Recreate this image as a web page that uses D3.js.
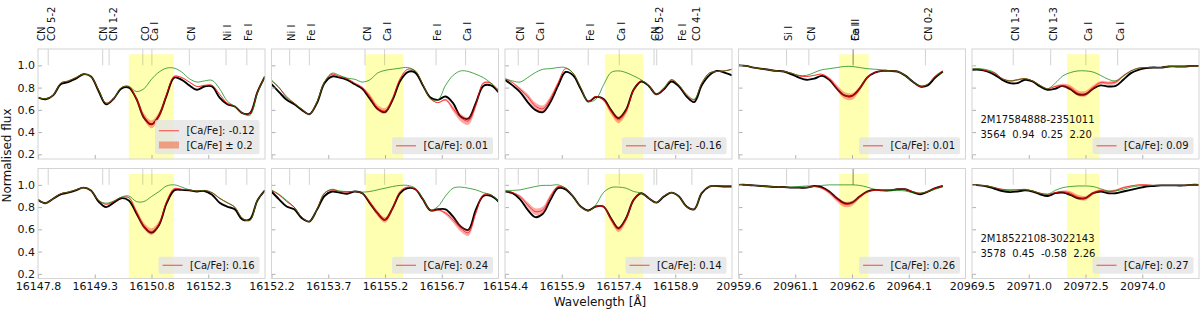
<!DOCTYPE html>
<html>
<head>
<meta charset="utf-8">
<script src="https://cdn.jsdelivr.net/npm/d3@7"></script>
<style>
  body { margin: 0; background: #fff; }
  svg { display: block; font-family: "DejaVu Sans", sans-serif; }
</style>
</head>
<body>
<svg id="chart" width="1200" height="311"></svg>
<script>
// wavelength grid: each panel starts at xStarts[c], samples every 0.2 A
var xStarts = [16147.8, 16152.2, 16154.4, 20959.6, 20969.5];
var step = 0.2;
var tickLabels = [
  ['16147.8', '16149.3', '16150.8', '16152.3'],
  ['16152.2', '16153.7', '16155.2', '16156.7'],
  ['16154.4', '16155.9', '16157.4', '16158.9'],
  ['20959.6', '20961.1', '20962.6', '20964.1'],
  ['20969.5', '20971.0', '20972.5', '20974.0']
];
var yTicks = [0.2, 0.4, 0.6, 0.8, 1.0];

// Ca line windows (yellow)
var caWindows = [[16150.20, 16151.39], [16154.68, 16155.68], [16157.04, 16158.05], [20962.26, 20963.04], [20972.01, 20972.87]];

// line markers and their labels
var lines1 = [16148.07, 16149.51, 16149.68, 16150.57, 16150.81, 16151.80, 16152.77, 16153.32];
var labels1 = [[16147.90, 'CN'], [16148.16, 'CO 5-2'], [16149.53, 'CN'], [16149.79, 'CN 1-2'], [16150.63, 'CO'], [16150.87, 'Ca I'], [16151.86, 'CN'], [16152.81, 'Ni I'], [16153.36, 'Fe I']];
var lines2 = [16152.68, 16153.20, 16154.67, 16155.19, 16156.55, 16157.33];
var labels2 = [[16152.74, 'Ni I'], [16153.27, 'Fe I'], [16154.73, 'CN'], [16155.26, 'Ca I'], [16156.60, 'Fe I'], [16157.39, 'Ca I']];
var lines3 = [16154.75, 16155.28, 16156.60, 16157.42, 16158.34, 16158.41, 16159.34];
var labels3 = [[16154.81, 'CN'], [16155.34, 'Ca I'], [16156.67, 'Fe I'], [16157.48, 'Ca I'], [16158.37, 'CN'], [16158.48, 'CO 5-2'], [16159.10, 'Fe I'], [16159.47, 'CO 4-1']];
var lines4 = [20960.87, 20961.46, 20962.63, 20962.63, 20962.63, 20964.54];
var labels4 = [[20960.93, 'Si I'], [20961.53, 'CN'], [20962.69, 'Ca II'], [20962.69, 'Fe I'], [20964.61, 'CN 0-2']];
var lines5 = [20970.59, 20971.58, 20972.51, 20973.35];
var labels5 = [[20970.66, 'CN 1-3'], [20971.65, 'CN 1-3'], [20972.57, 'Ca I'], [20973.43, 'Ca I']];

// star A (top row)
var obsA1 = [0.71,0.695,0.73,0.83,0.85,0.88,0.92,0.90,0.77,0.65,0.70,0.79,0.80,0.70,0.53,0.47,0.55,0.73,0.89,0.87,0.82,0.78,0.81,0.81,0.71,0.65,0.63,0.57,0.57,0.76,0.90];
var fitA1 = [0.71,0.70,0.73,0.84,0.86,0.89,0.92,0.90,0.78,0.66,0.70,0.80,0.81,0.70,0.54,0.47,0.55,0.74,0.90,0.89,0.85,0.81,0.82,0.82,0.74,0.66,0.63,0.57,0.57,0.76,0.90];
var noCaA1 = [0.71,0.70,0.73,0.84,0.86,0.89,0.92,0.90,0.78,0.66,0.70,0.80,0.81,0.765,0.79,0.875,0.94,0.975,0.975,0.94,0.88,0.85,0.86,0.865,0.79,0.68,0.63,0.57,0.55,0.75,0.90];
var bandA1 = [0.004,0.004,0.004,0.004,0.004,0.004,0.004,0.004,0.006,0.008,0.006,0.004,0.006,0.02,0.03,0.035,0.03,0.015,0.008,0.005,0.005,0.005,0.005,0.005,0.005,0.005,0.004,0.004,0.004,0.004,0.004];

var obsA2 = [0.83,0.76,0.69,0.65,0.60,0.56,0.66,0.84,0.90,0.89,0.87,0.83,0.79,0.70,0.61,0.58,0.69,0.86,0.94,0.935,0.82,0.71,0.69,0.72,0.66,0.54,0.52,0.66,0.815,0.82,0.76];
var fitA2 = [0.86,0.80,0.71,0.66,0.605,0.56,0.67,0.85,0.92,0.90,0.88,0.84,0.80,0.72,0.62,0.59,0.70,0.88,0.965,0.95,0.83,0.70,0.665,0.69,0.61,0.53,0.50,0.64,0.84,0.84,0.76];
var noCaA2 = [0.87,0.80,0.72,0.66,0.605,0.56,0.67,0.85,0.93,0.91,0.885,0.875,0.85,0.87,0.93,0.955,0.965,0.975,0.98,0.95,0.83,0.70,0.69,0.82,0.91,0.95,0.945,0.92,0.89,0.84,0.78];
var bandA2 = [0.004,0.004,0.004,0.004,0.004,0.004,0.004,0.004,0.004,0.004,0.004,0.004,0.01,0.02,0.025,0.025,0.02,0.01,0.004,0.004,0.004,0.004,0.004,0.01,0.025,0.035,0.035,0.025,0.01,0.004,0.004];

var obsA3 = [0.87,0.82,0.76,0.67,0.60,0.58,0.67,0.815,0.94,0.91,0.79,0.675,0.715,0.70,0.60,0.525,0.60,0.78,0.855,0.815,0.74,0.785,0.855,0.81,0.72,0.67,0.82,0.91,0.95,0.935,0.91];
var fitA3 = [0.88,0.845,0.785,0.72,0.635,0.61,0.70,0.84,0.97,0.93,0.80,0.675,0.72,0.69,0.585,0.51,0.585,0.78,0.86,0.82,0.74,0.79,0.87,0.82,0.73,0.69,0.84,0.93,0.945,0.95,0.965];
var noCaA3 = [0.88,0.86,0.85,0.89,0.935,0.965,0.97,0.98,0.98,0.93,0.80,0.675,0.695,0.82,0.935,0.95,0.935,0.905,0.87,0.815,0.74,0.80,0.87,0.82,0.74,0.695,0.84,0.93,0.945,0.95,0.965];
var bandA3 = [0.004,0.004,0.015,0.025,0.03,0.03,0.025,0.012,0.004,0.004,0.004,0.004,0.004,0.012,0.025,0.03,0.025,0.012,0.004,0.004,0.004,0.004,0.004,0.004,0.004,0.004,0.004,0.004,0.004,0.004,0.004];

var obsA4 = [1.0,0.995,0.98,0.97,0.96,0.95,0.945,0.92,0.89,0.87,0.88,0.905,0.87,0.79,0.73,0.725,0.79,0.89,0.935,0.95,0.95,0.945,0.91,0.855,0.81,0.82,0.89,0.945];
var fitA4 = [1.0,0.995,0.98,0.97,0.96,0.95,0.945,0.93,0.905,0.90,0.91,0.92,0.88,0.80,0.73,0.72,0.79,0.89,0.935,0.95,0.95,0.945,0.91,0.855,0.81,0.83,0.905,0.95];
var noCaA4 = [1.0,0.995,0.98,0.97,0.96,0.95,0.945,0.93,0.91,0.91,0.935,0.96,0.97,0.98,0.99,0.99,0.98,0.97,0.965,0.96,0.95,0.945,0.91,0.855,0.815,0.83,0.90,0.935];
var bandA4 = [0.004,0.004,0.004,0.004,0.004,0.004,0.004,0.004,0.004,0.004,0.004,0.004,0.012,0.025,0.03,0.03,0.02,0.01,0.004,0.004,0.004,0.004,0.004,0.004,0.004,0.004,0.004,0.004];

var obsA5 = [0.96,0.96,0.945,0.915,0.87,0.84,0.84,0.87,0.855,0.81,0.78,0.79,0.815,0.785,0.74,0.74,0.79,0.82,0.81,0.815,0.87,0.93,0.96,0.975,0.98,0.98,0.99,0.99,0.99,0.995,0.995];
var fitA5 = [0.965,0.965,0.95,0.93,0.88,0.86,0.87,0.88,0.86,0.82,0.79,0.81,0.82,0.80,0.75,0.745,0.80,0.845,0.84,0.85,0.905,0.95,0.975,0.98,0.98,0.98,0.99,0.99,0.99,0.995,0.995];
var noCaA5 = [0.97,0.97,0.96,0.935,0.88,0.86,0.87,0.88,0.86,0.82,0.79,0.84,0.905,0.935,0.95,0.95,0.94,0.91,0.875,0.86,0.905,0.95,0.975,0.98,0.98,0.98,0.99,0.99,0.99,0.995,0.995];
var bandA5 = [0.004,0.004,0.004,0.004,0.006,0.008,0.008,0.006,0.004,0.004,0.004,0.008,0.015,0.022,0.025,0.025,0.02,0.015,0.015,0.015,0.01,0.004,0.004,0.004,0.004,0.004,0.004,0.004,0.004,0.004,0.004];

// star B (bottom row)
var obsB1 = [0.865,0.835,0.875,0.915,0.93,0.95,0.975,0.95,0.85,0.80,0.84,0.88,0.86,0.745,0.625,0.57,0.64,0.835,0.95,0.955,0.95,0.94,0.945,0.91,0.84,0.805,0.78,0.69,0.69,0.86,0.95];
var fitB1 = [0.865,0.835,0.875,0.92,0.935,0.955,0.975,0.95,0.86,0.825,0.85,0.885,0.885,0.76,0.63,0.58,0.65,0.85,0.965,0.96,0.955,0.945,0.95,0.93,0.88,0.84,0.80,0.70,0.68,0.86,0.95];
var noCaB1 = [0.865,0.835,0.875,0.92,0.935,0.955,0.975,0.95,0.86,0.835,0.855,0.89,0.90,0.85,0.85,0.895,0.94,0.99,1.0,0.98,0.955,0.945,0.95,0.93,0.88,0.84,0.80,0.70,0.68,0.86,0.95];
var bandB1 = [0.004,0.004,0.004,0.004,0.004,0.004,0.004,0.004,0.004,0.004,0.004,0.004,0.006,0.02,0.03,0.03,0.025,0.012,0.006,0.004,0.004,0.004,0.004,0.004,0.004,0.004,0.004,0.004,0.004,0.004,0.004];

var obsB2 = [0.94,0.87,0.805,0.78,0.70,0.67,0.775,0.90,0.94,0.93,0.92,0.94,0.925,0.835,0.745,0.685,0.79,0.925,0.97,0.96,0.87,0.77,0.78,0.78,0.715,0.625,0.595,0.775,0.90,0.90,0.85];
var fitB2 = [0.95,0.91,0.85,0.80,0.71,0.67,0.78,0.925,0.955,0.94,0.935,0.94,0.925,0.845,0.745,0.685,0.79,0.94,0.98,0.96,0.87,0.77,0.775,0.745,0.685,0.61,0.57,0.745,0.91,0.91,0.85];
var noCaB2 = [0.955,0.915,0.86,0.80,0.71,0.67,0.78,0.925,0.96,0.945,0.94,0.94,0.935,0.94,0.955,0.97,0.985,0.995,0.995,0.97,0.88,0.775,0.805,0.90,0.97,0.98,0.97,0.955,0.93,0.91,0.86];
var bandB2 = [0.004,0.004,0.004,0.004,0.004,0.004,0.004,0.004,0.004,0.004,0.004,0.004,0.004,0.015,0.025,0.025,0.02,0.01,0.004,0.004,0.004,0.004,0.004,0.015,0.025,0.03,0.03,0.02,0.008,0.004,0.004];

var obsB3 = [0.94,0.925,0.87,0.775,0.71,0.74,0.865,0.97,0.96,0.895,0.805,0.77,0.805,0.805,0.70,0.61,0.70,0.865,0.925,0.88,0.84,0.895,0.93,0.895,0.805,0.78,0.925,0.985,0.99,0.985,0.985];
var fitB3 = [0.945,0.93,0.895,0.82,0.76,0.775,0.895,0.985,0.97,0.895,0.805,0.765,0.805,0.805,0.69,0.60,0.69,0.865,0.925,0.88,0.84,0.90,0.93,0.895,0.805,0.78,0.93,0.985,0.99,0.99,0.99];
var noCaB3 = [0.945,0.95,0.955,0.97,0.985,0.995,0.995,1.0,0.97,0.895,0.805,0.765,0.82,0.93,0.975,0.98,0.97,0.94,0.925,0.88,0.84,0.90,0.93,0.895,0.805,0.78,0.93,0.985,0.99,0.99,0.99];
var bandB3 = [0.004,0.004,0.012,0.025,0.03,0.03,0.02,0.008,0.004,0.004,0.004,0.004,0.004,0.012,0.022,0.025,0.022,0.01,0.004,0.004,0.004,0.004,0.004,0.004,0.004,0.004,0.004,0.004,0.004,0.004,0.004];

var obsB4 = [1.0,1.0,0.995,0.99,0.985,0.98,0.98,0.975,0.975,0.975,0.99,0.98,0.94,0.88,0.835,0.84,0.895,0.94,0.955,0.95,0.95,0.96,0.96,0.935,0.915,0.94,0.97,0.99];
var fitB4 = [1.0,1.0,0.995,0.99,0.985,0.98,0.98,0.975,0.975,0.975,0.985,0.97,0.93,0.87,0.825,0.835,0.89,0.935,0.95,0.95,0.955,0.96,0.96,0.94,0.925,0.94,0.97,0.99];
var noCaB4 = [1.0,1.0,0.995,0.99,0.985,0.98,0.98,0.98,0.985,0.99,0.99,0.995,1.0,1.0,1.0,1.0,0.995,0.98,0.96,0.955,0.95,0.95,0.945,0.93,0.925,0.94,0.96,0.985];
var bandB4 = [0.004,0.004,0.004,0.004,0.004,0.004,0.004,0.004,0.004,0.004,0.004,0.008,0.015,0.022,0.025,0.022,0.015,0.008,0.004,0.004,0.004,0.004,0.004,0.004,0.004,0.004,0.004,0.004];

var obsB5 = [1.0,0.995,0.985,0.965,0.945,0.935,0.94,0.95,0.94,0.915,0.90,0.925,0.93,0.91,0.88,0.88,0.925,0.94,0.925,0.925,0.94,0.955,0.97,0.985,0.99,0.995,0.995,0.995,0.995,1.0,1.0];
var fitB5 = [1.0,0.995,0.99,0.975,0.96,0.955,0.955,0.96,0.945,0.925,0.915,0.93,0.94,0.925,0.89,0.88,0.925,0.95,0.94,0.95,0.975,0.99,1.0,1.0,0.995,0.995,0.995,0.995,0.995,1.0,1.0];
var noCaB5 = [1.0,0.995,0.99,0.975,0.955,0.95,0.955,0.955,0.945,0.925,0.915,0.95,0.975,0.985,0.99,0.99,0.985,0.965,0.945,0.945,0.96,0.98,0.99,0.995,0.995,0.995,0.995,0.995,0.995,1.0,1.0];
var bandB5 = [0.004,0.004,0.004,0.004,0.004,0.004,0.004,0.004,0.004,0.004,0.004,0.004,0.01,0.018,0.02,0.02,0.015,0.01,0.01,0.01,0.008,0.004,0.004,0.004,0.004,0.004,0.004,0.004,0.004,0.004,0.004];

var caFeA = ['-0.12', '0.01', '-0.16', '0.01', '0.09'];
var caFeB = ['0.16', '0.24', '0.14', '0.26', '0.27'];
var starA = ['2M17584888-2351011', '3564  0.94  0.25  2.20'];
var starB = ['2M18522108-3022143', '3578  0.45  -0.58  2.26'];

var rows = [
  { obs: [obsA1, obsA2, obsA3, obsA4, obsA5], fit: [fitA1, fitA2, fitA3, fitA4, fitA5],
    noCa: [noCaA1, noCaA2, noCaA3, noCaA4, noCaA5], band: [bandA1, bandA2, bandA3, bandA4, bandA5],
    caFe: caFeA, star: starA },
  { obs: [obsB1, obsB2, obsB3, obsB4, obsB5], fit: [fitB1, fitB2, fitB3, fitB4, fitB5],
    noCa: [noCaB1, noCaB2, noCaB3, noCaB4, noCaB5], band: [bandB1, bandB2, bandB3, bandB4, bandB5],
    caFe: caFeB, star: starB }
];
var allLines = [lines1, lines2, lines3, lines4, lines5];
var allLabels = [labels1, labels2, labels3, labels4, labels5];

// layout
var colLeft = [38, 271.5, 505, 738.5, 972];
var rowTop = [49, 168.5];
var panelW = 227;
var panelH = 110;

var svg = d3.select('#chart');

function toPoints(vals, c) {
  return vals.map(function(v, i) { return { w: xStarts[c] + i * step, v: v }; });
}

function drawPanel(r, c) {
  var row = rows[r];
  var g = svg.append('g')
    .attr('transform', 'translate(' + colLeft[c] + ',' + rowTop[r] + ')');

  var x = d3.scaleLinear().domain([xStarts[c], xStarts[c] + 6]).range([0, panelW]);
  var y = d3.scaleLinear().domain([0.158, 1.147]).range([panelH, 0]);

  var clipId = 'clip' + r + c;
  g.append('clipPath').attr('id', clipId)
    .append('rect').attr('width', panelW).attr('height', panelH);
  var plot = g.append('g').attr('clip-path', 'url(#' + clipId + ')');

  // Ca window
  plot.append('rect')
    .attr('x', x(caWindows[c][0]))
    .attr('width', x(caWindows[c][1]) - x(caWindows[c][0]))
    .attr('y', y(1.1))
    .attr('height', panelH - y(1.1))
    .style('fill', '#ffff00')
    .style('opacity', 0.3);

  // line markers
  plot.selectAll('.mark')
    .data(allLines[c])
    .enter()
    .append('line')
    .attr('x1', function(d) { return x(d); })
    .attr('x2', function(d) { return x(d); })
    .attr('y1', y(1.0))
    .attr('y2', 0)
    .style('stroke', '#000')
    .style('stroke-opacity', 0.18)
    .style('stroke-width', 1);

  var line = d3.line()
    .x(function(d) { return x(d.w); })
    .y(function(d) { return y(d.v); })
    .curve(d3.curveCatmullRom);

  var obs = toPoints(row.obs[c], c);
  var fit = toPoints(row.fit[c], c);
  var band = row.band[c];

  plot.append('path').datum(obs)
    .attr('d', line)
    .style('fill', 'none')
    .style('stroke', '#000')
    .style('stroke-width', 1.9);

  var area = d3.area()
    .x(function(d) { return x(d.w); })
    .y0(function(d, i) { return y(d.v - band[i]); })
    .y1(function(d, i) { return y(d.v + band[i]); })
    .curve(d3.curveCatmullRom);

  plot.append('path').datum(fit)
    .attr('d', area)
    .style('fill', '#ff1a1a')
    .style('opacity', 0.38);

  plot.append('path').datum(fit)
    .attr('d', line)
    .style('fill', 'none')
    .style('stroke', '#ff0000')
    .style('stroke-opacity', 0.7)
    .style('stroke-width', 1);

  plot.append('path').datum(toPoints(row.noCa[c], c))
    .attr('d', line)
    .style('fill', 'none')
    .style('stroke', '#008000')
    .style('stroke-opacity', 0.7)
    .style('stroke-width', 1);

  // axes
  var yAxis = g.append('g')
    .call(d3.axisLeft(y).tickValues(yTicks).tickSize(-4).tickPadding(3)
      .tickFormat(c === 0 ? d3.format('.1f') : function() { return ''; }));
  var xAxis = g.append('g')
    .attr('transform', 'translate(0,' + panelH + ')')
    .call(d3.axisBottom(x).tickValues(tickLabels[c].map(Number)).tickSize(-4).tickPadding(3.5)
      .tickFormat(function(d, i) { return r === 1 ? tickLabels[c][i] : ''; }));
  [yAxis, xAxis].forEach(function(a) {
    a.select('.domain').remove();
    a.selectAll('.tick line').style('stroke', '#b0b0b0');
    a.selectAll('.tick text').style('font-size', '11px').style('fill', '#111')
      .style('font-family', '"DejaVu Sans", sans-serif');
  });

  // frame
  g.append('rect')
    .attr('width', panelW).attr('height', panelH)
    .style('fill', 'none')
    .style('stroke', '#d4d4d4')
    .style('stroke-width', 1);

  // labels above the top row
  if (r === 0) {
    g.selectAll('.lbl')
      .data(allLabels[c])
      .enter()
      .append('text')
      .attr('transform', function(d) { return 'translate(' + x(d[0]) + ',-8) rotate(-90)'; })
      .attr('dy', '0.35em')
      .style('font-size', '10px')
      .style('fill', '#111')
      .text(function(d) { return d[1]; });
  }

  // star info
  if (c === 4) {
    g.selectAll('.star')
      .data(row.star)
      .enter()
      .append('text')
      .attr('x', 8.5)
      .attr('y', function(d, i) { return 73.7 + i * 15; })
      .attr('xml:space', 'preserve')
      .style('white-space', 'pre')
      .style('font-size', '10px')
      .style('fill', '#111')
      .text(function(d) { return d; });
  }

  drawLegend(g, r, c);
}

function drawLegend(g, r, c) {
  var entries = ['[Ca/Fe]: ' + rows[r].caFe[c]];
  if (r === 0 && c === 0) entries.push('[Ca/Fe] \u00b1 0.2');
  var rowH = 14.3;
  var boxH = entries.length === 1 ? 17 : 34.3;
  var leg = g.append('g');
  var bg = leg.append('rect')
    .attr('rx', 2).attr('ry', 2)
    .style('fill', '#e4e4e4')
    .style('opacity', 0.8);
  var texts = leg.selectAll('.lt')
    .data(entries)
    .enter()
    .append('text')
    .attr('x', 31.5)
    .attr('y', function(d, i) { return (entries.length === 1 ? 8.5 : 10.7) + i * rowH; })
    .attr('dy', '0.35em')
    .style('font-size', '10px')
    .style('fill', '#111')
    .text(function(d) { return d; });
  var maxW = 0;
  texts.each(function() { maxW = Math.max(maxW, this.getComputedTextLength()); });
  var boxW = 31.5 + maxW + 5;
  var bx = panelW - 5.5 - boxW;
  var by = panelH - 4.7 - boxH;
  leg.attr('transform', 'translate(' + bx + ',' + by + ')');
  bg.attr('width', boxW).attr('height', boxH);

  var ly = entries.length === 1 ? 8.5 : 10.7;
  leg.append('line')
    .attr('x1', 4).attr('x2', 24)
    .attr('y1', ly).attr('y2', ly)
    .style('stroke', '#ff0000')
    .style('stroke-opacity', 0.6)
    .style('stroke-width', 1.2);
  if (entries.length > 1) {
    leg.append('rect')
      .attr('x', 4).attr('width', 20)
      .attr('y', ly + rowH - 3.5).attr('height', 7)
      .style('fill', '#f26a45')
      .style('opacity', 0.6);
  }
}

for (var r = 0; r < 2; r++) {
  for (var c = 0; c < 5; c++) {
    drawPanel(r, c);
  }
}

// axis titles
svg.append('text')
  .attr('transform', 'translate(7,155.5) rotate(-90)')
  .attr('text-anchor', 'middle')
  .attr('dy', '0.35em')
  .style('font-size', '12px')
  .style('fill', '#111')
  .text('Normalised flux');

svg.append('text')
  .attr('x', 600)
  .attr('y', 306)
  .attr('text-anchor', 'middle')
  .style('font-size', '12px')
  .style('fill', '#111')
  .text('Wavelength [\u00c5]');
</script>
</body>
</html>
